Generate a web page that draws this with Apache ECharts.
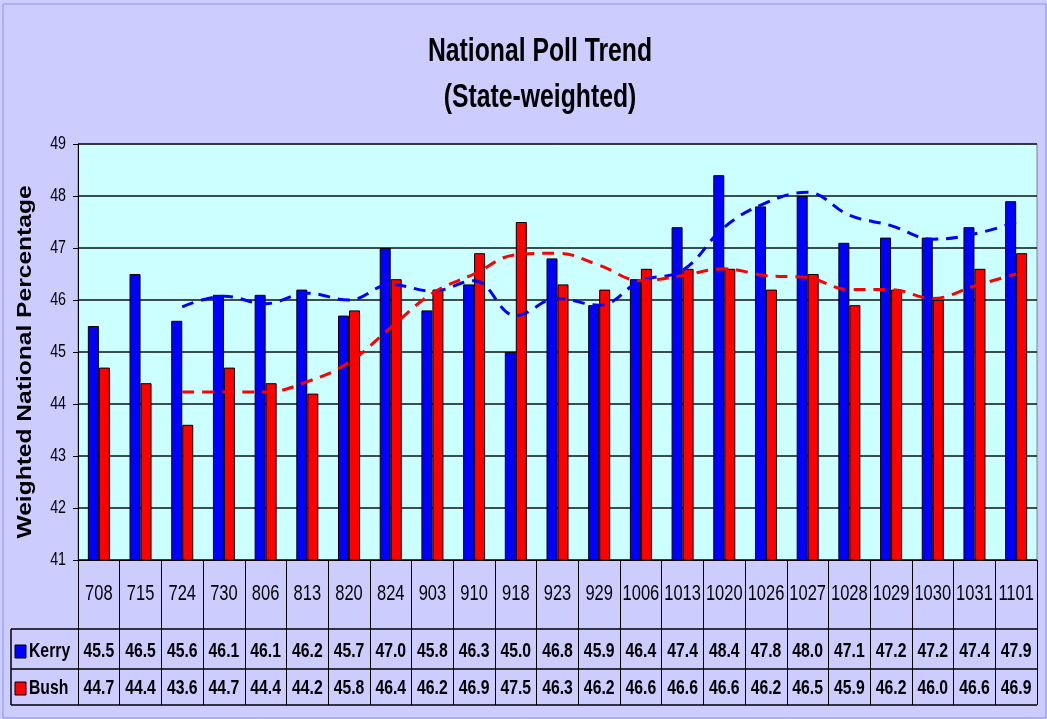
<!DOCTYPE html>
<html>
<head>
<meta charset="utf-8">
<script src="https://cdn.jsdelivr.net/npm/echarts@6/dist/echarts.min.js"></script>
<style>
html, body { margin: 0; padding: 0; background: #fff; }
#main { width: 1047px; height: 719px; }
</style>
</head>
<body>
<div id="main"></div>
<script>
// poll dates (mdd)
var dates = ['708', '715', '724', '730', '806', '813', '820', '824', '903', '910', '918', '923',
  '929', '1006', '1013', '1020', '1026', '1027', '1028', '1029', '1030', '1031', '1101'];
var kerry = [45.5, 46.5, 45.6, 46.1, 46.1, 46.2, 45.7, 47.0, 45.8, 46.3, 45.0, 46.8,
  45.9, 46.4, 47.4, 48.4, 47.8, 48.0, 47.1, 47.2, 47.2, 47.4, 47.9];
var bush = [44.7, 44.4, 43.6, 44.7, 44.4, 44.2, 45.8, 46.4, 46.2, 46.9, 47.5, 46.3,
  46.2, 46.6, 46.6, 46.6, 46.2, 46.5, 45.9, 46.2, 46.0, 46.6, 46.9];
// dashed trend lines
var kerryTrend = ['-', '-', 45.87, 46.07, 45.93, 46.13, 46.0, 46.3, 46.17, 46.37, 45.7, 46.03,
  45.9, 46.37, 46.57, 47.4, 47.87, 48.07, 47.63, 47.43, 47.17, 47.27, 47.5];
var bushTrend = ['-', '-', 44.23, 44.23, 44.23, 44.43, 44.8, 45.47, 46.13, 46.5, 46.87, 46.9,
  46.67, 46.37, 46.47, 46.6, 46.47, 46.43, 46.2, 46.2, 46.03, 46.27, 46.5];
var yTicks = [41, 42, 43, 44, 45, 46, 47, 48, 49];

var FONT = '"Liberation Sans", Arial, sans-serif';
var SQUEEZE = 0.75;  // the original picture is squashed sideways

var chart = echarts.init(document.getElementById('main'));

var option = {
  backgroundColor: '#ccccff',
  animation: false,
  grid: {
    left: 78,
    right: 10,
    top: 144,
    bottom: 159,
    show: true,
    backgroundColor: '#ccffff',
    borderColor: '#808080',
    borderWidth: 1
  },
  xAxis: {
    type: 'category',
    data: dates,
    axisLine: { lineStyle: { color: '#000', width: 1 } },
    axisTick: { show: true, length: 145, lineStyle: { color: '#000', width: 1 } },
    axisLabel: { show: false }
  },
  yAxis: {
    type: 'value',
    min: yTicks[0],
    max: yTicks[yTicks.length - 1],
    interval: 1,
    axisLine: { show: true, lineStyle: { color: '#000' } },
    axisTick: { show: true, length: 5, lineStyle: { color: '#000' } },
    axisLabel: { show: false },
    splitLine: { lineStyle: { color: '#111', width: 1.5 } }
  },
  series: [
    {
      name: 'Kerry',
      type: 'bar',
      data: kerry,
      barWidth: 11,
      barGap: '0%',
      itemStyle: { color: '#0000ff', borderColor: '#000', borderWidth: 1 }
    },
    {
      name: 'Bush',
      type: 'bar',
      data: bush,
      barWidth: 11,
      itemStyle: { color: '#ff0000', borderColor: '#000', borderWidth: 1 }
    },
    {
      name: 'Kerry trend',
      type: 'line',
      data: kerryTrend,
      smooth: 0.4,
      symbol: 'none',
      lineStyle: { color: '#0000ff', width: 3, type: [12, 8] },
      z: 5
    },
    {
      name: 'Bush trend',
      type: 'line',
      data: bushTrend,
      smooth: 0.4,
      symbol: 'none',
      lineStyle: { color: '#ff0000', width: 3, type: [12, 8] },
      z: 5
    }
  ]
};

chart.setOption(option);

// squeezed text helper
function txt(s, x, y, size, weight, align, extra) {
  var el = {
    type: 'text', x: x, y: y, scaleX: SQUEEZE, silent: true,
    style: { text: s, fill: '#000', font: weight + ' ' + size + 'px ' + FONT,
      align: align || 'center', verticalAlign: 'middle' }
  };
  if (extra) Object.keys(extra).forEach(function (k) { el[k] = extra[k]; });
  return el;
}

var graphics = [
  { type: 'rect', shape: { x: 3, y: 4, width: 1043, height: 714 },
    style: { fill: 'none', stroke: '#8f8fef', lineWidth: 1 }, silent: true },
  txt('National Poll Trend', 540, 52, 33, 'bold'),
  txt('(State-weighted)', 540, 98, 33, 'bold'),
  // y axis title, stretched along its length
  txt('Weighted National Percentage', 25, 362, 21, 'bold', 'center',
    { rotation: Math.PI / 2, scaleX: 1.17 })
];

// y tick labels
yTicks.forEach(function (v) {
  var py = chart.convertToPixel({ yAxisIndex: 0 }, v);
  graphics.push(txt(String(v), 66, py, 19, 'normal', 'right'));
});

// data table under the chart
var tableLeft = 11, tableRight = 1037;
[629, 669, 705].forEach(function (y) {
  graphics.push({ type: 'line', shape: { x1: tableLeft, y1: y, x2: tableRight, y2: y },
    style: { stroke: '#000', lineWidth: 1.5 } });
});
graphics.push({ type: 'line', shape: { x1: tableLeft, y1: 629, x2: tableLeft, y2: 705 },
  style: { stroke: '#000', lineWidth: 1.5 } });

dates.forEach(function (d) {
  var px = chart.convertToPixel({ xAxisIndex: 0 }, d);
  graphics.push(txt(d, px, 594, 22, 'normal'));
});

var rows = [
  { name: 'Kerry', color: '#0000ff', y: 651, vals: kerry },
  { name: 'Bush', color: '#ff0000', y: 688, vals: bush }
];
rows.forEach(function (r) {
  graphics.push({ type: 'rect', shape: { x: 15, y: r.y - 6, width: 11, height: 13 },
    style: { fill: r.color, stroke: '#000', lineWidth: 1 } });
  graphics.push(txt(r.name, 29, r.y, 21, 'bold', 'left'));
  r.vals.forEach(function (v, i) {
    var px = chart.convertToPixel({ xAxisIndex: 0 }, dates[i]);
    graphics.push(txt(v.toFixed(1), px, r.y, 21, 'bold'));
  });
});

chart.setOption({ graphic: graphics });
</script>
</body>
</html>
